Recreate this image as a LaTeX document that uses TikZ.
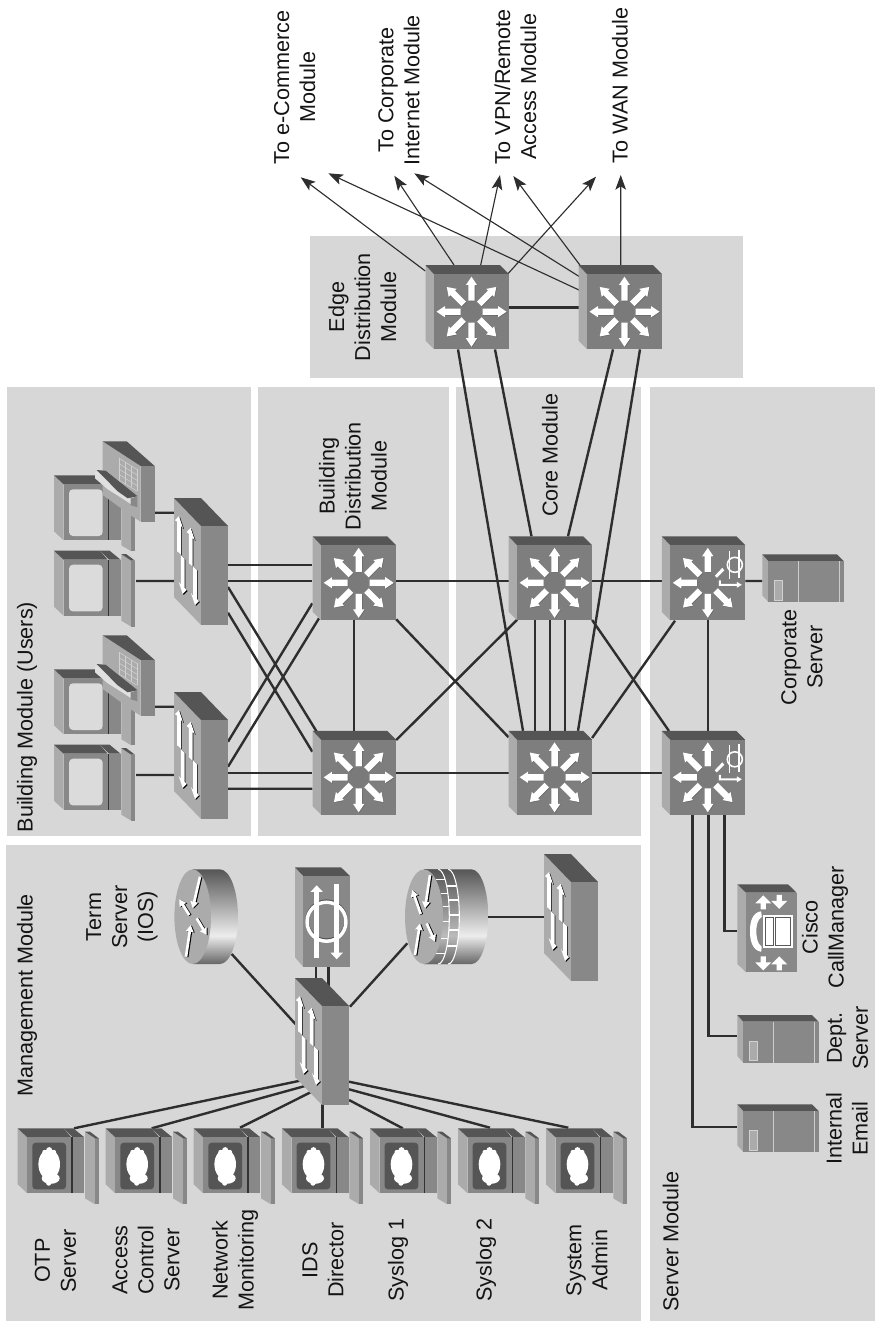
\documentclass[tikz,border=0pt]{standalone}
\usepackage{fontspec}
\setmainfont{Liberation Sans}
\usetikzlibrary{calc,arrows.meta}
\definecolor{modbg}{HTML}{D7D7D7}
\definecolor{ctop}{HTML}{555555}
\definecolor{cside}{HTML}{ABABAB}
\definecolor{cface}{HTML}{7E7E7E}
\definecolor{cfacel}{HTML}{888888}
\definecolor{cline}{HTML}{2E2E2E}
\definecolor{rA}{HTML}{666666}
\definecolor{rB}{HTML}{EDEDED}
\definecolor{rC}{HTML}{565656}
\definecolor{rD}{HTML}{BBBBBB}
\pgfdeclareverticalshading{rbody}{100bp}{color(0bp)=(rA); color(25bp)=(rA); color(40bp)=(rB); color(75bp)=(rC); color(100bp)=(rC)}
\pgfdeclareverticalshading{rfire}{100bp}{color(0bp)=(rA); color(25bp)=(rA); color(40bp)=(rD); color(75bp)=(rC); color(100bp)=(rC)}
% eight-way arrow of a layer-3 switch, pointing at canvas angle #1
\newcommand{\wideArrow}[1]{%
  \fill[black!60,shift={(0.6,0.6)},rotate=#1] (11,-3.2)--(26.5,-3.2)--(26.5,-5.7)--(35,0)--(26.5,5.7)--(26.5,3.2)--(11,3.2)--cycle;
  \fill[white,rotate=#1] (11,-3.2)--(26.5,-3.2)--(26.5,-5.7)--(35,0)--(26.5,5.7)--(26.5,3.2)--(11,3.2)--cycle;}
% skewed arrow on the light face of a layer-2 switch
\newcommand{\skewArrow}[3]{%
  \begin{scope}[shift={(#1,#2)},yslant=-1,yscale=#3]
    \fill[black,shift={(0.9,0)}] (0,0)--(4,8)--(1.8,8)--(1.8,37)--(-1.8,37)--(-1.8,8)--(-4,8)--cycle;
    \fill[white] (0,0)--(4,8)--(1.8,8)--(1.8,37)--(-1.8,37)--(-1.8,8)--(-4,8)--cycle;
  \end{scope}}
% thin arrow on the face of a router
\newcommand{\routerArrow}[4]{%
  \draw[black,line width=2pt,-{Triangle[length=5pt,width=5.5pt]},shift={(1.1,0.4)}] (#1,#2)--(#3,#4);
  \draw[white,line width=2pt,-{Triangle[length=5pt,width=5.5pt]}] (#1,#2)--(#3,#4);}
% block arrow of the CallManager; tip at (#1,#2), tail length #3 (signed)
\newcommand{\blockArrow}[3]{%
  \fill[white,shift={(#1,#2)},yscale=#3] (0,0)--(8,8)--(2.6,8)--(2.6,14)--(-2.6,14)--(-2.6,8)--(-8,8)--cycle;}
\newcommand{\cubeShell}{%
  \fill[cside] (-46,-46.5)--(-37.5,-37.5)--(-37.5,37.5)--(-46,29)--cycle;
  \fill[ctop] (-46,-46.5)--(28.5,-46.5)--(37.5,-37.5)--(-37.5,-37.5)--cycle;
  \fill[cface] (-37.5,-37.5) rectangle (37.5,37.5);}
\newcommand{\pcBody}{%
  \fill[cside] (0,0)--(9.6,9)--(9.6,65)--(0,56)--cycle;
  \fill[ctop] (0,0)--(46,0)--(53.6,9)--(9.6,9)--cycle;
  \fill[cfacel] (9.6,9) rectangle (53.6,65);
  \fill[ctop] (46,0)--(55.6,0)--(66.6,9)--(55,9)--cycle;
  \fill[cfacel] (55,9) rectangle (66.6,65);
  \fill[black!80] (53.6,9) rectangle (55,65);
  \fill[cside] (67.3,3.4)--(77.3,10)--(77.3,76)--(67.3,70)--cycle;
  \fill[cfacel] (77.3,10) rectangle (81,76);
  \fill[ctop] (67.3,3.4)--(72.3,3.4)--(81,10)--(77.3,10)--cycle;}
\tikzset{
  modbox/.style={fill=modbg,draw=none},
  lbl/.style={rotate=90,align=center,inner sep=0pt,font=\fontsize{16.2}{19.5}\selectfont,text=black!92},
  anchorpt/.style={inner sep=0pt,minimum size=0pt},
  link/.style={draw=cline,line width=1.8pt},
  feed/.style={draw=cline,line width=0.85pt,-{Stealth[length=11pt,width=8pt,inset=2.5pt]}},
  l3icon/.pic={\cubeShell
    \fill[black!52] (0,0) circle (10);
    \foreach \a in {0,45,...,315}{\wideArrow{\a}}},
  l3voice/.pic={\cubeShell
    \fill[black!52] (0,0) circle (10);
    \foreach \a in {90,135,180,225,270,315}{\wideArrow{\a}}
    \fill[white] (7,-7)--(14.5,-15)--(16.5,-12.5)--(9,-5)--cycle;
    \fill[white] (11,-2.5)--(13,-2.5)--(13,1)--(29,1)--(29,-1)--(34,2)--(29,5)--(29,3)--(11,3)--cycle;
    \draw[white,line width=1.2pt] (27,-18) circle (7.5);
    \draw[white,line width=1pt] (22,-32)--(22,-4);
    \draw[white,line width=1pt] (31.3,-33)--(31.3,-5);},
  l2icon/.pic={
    \fill[cside] (0,0)--(27,28)--(27,127)--(0,99)--cycle;
    \fill[ctop] (0,0)--(27,0)--(54,28)--(27,28)--cycle;
    \fill[cfacel] (27,28) rectangle (54,127);
    \skewArrow{5}{18}{1}\skewArrow{16.7}{30}{1}
    \skewArrow{8.7}{96}{-1}\skewArrow{21}{107}{-1}},
  mgmtpc/.pic={\pcBody
    \fill[ctop,rounded corners=2.5pt] (14.6,14.4) rectangle (48.3,61);
    \fill[white] (31.5,36) ellipse (10.8 and 15);
    \fill[white] (33,50) ellipse (9 and 5.5);
    \fill[white] (31.5,21.8) circle (3);
    \fill[white] (27,24) circle (2.5);
    \fill[white] (36,24) circle (2.5);
    \fill[white] (31,54.8) circle (2.6);},
  userpc/.pic={\pcBody
    \fill[black!14,rounded corners=3pt] (15,14) rectangle (48.7,60.7);},
  ipphone/.pic={
    \fill[cside] (0,0)--(38,24.7)--(38,80.4)--(29,74.7)--(0,53.7)--cycle;
    \fill[ctop] (0,0)--(24,0)--(52,24.7)--(38,24.7)--cycle;
    \fill[cfacel] (38,24.7) rectangle (52,80.4);
    \foreach \u in {16.3,22.3,28.3,34.3}{\draw[black!18,line width=0.4pt] (\u,{17+(\u-16.3)*0.62})--(\u,{38.7+(\u-16.3)*0.62});}
    \foreach \v in {0,5.4,10.8,16.2,21.7}{\draw[black!18,line width=0.4pt] (16.3,17+\v)--(34.3,28.2+\v);}
    \fill[black!12] (-7.7,30.4)--(-7.7,37)--(5,48)--(21,58)--(28,62.7)--(35,65.7)--(35,55)--(20,47)--(2,32)--cycle;
    \fill[ctop] (-6,28.7)--(3,29.5)--(35,55)--(25,57)--(15,50)--cycle;
    \fill[cfacel] (28,57)--(35,55)--(35,66)--(28,64)--cycle;},
  termrouter/.pic={
    \shade[shading=rbody] (0,-47.3)--(27.3,-47.3) .. controls (37.2,-47.3) and (45.3,-26.1) .. (45.3,0) .. controls (45.3,26.1) and (37.2,47.3) .. (27.3,47.3)--(0,47.3)--cycle;
    \fill[cside] (0,0) ellipse (18.3 and 47.3);
    \routerArrow{7.3}{-40}{0}{-8.4}\routerArrow{-3.4}{-1.7}{-13.4}{-17.4}
    \routerArrow{4}{1.6}{14}{18.3}\routerArrow{-6.7}{40}{-2}{8.3}},
  firerouter/.pic={
    \shade[shading=rbody] (0,-47.3)--(47.7,-47.3) .. controls (56.9,-47.3) and (64.3,-26.1) .. (64.3,0) .. controls (64.3,26.1) and (56.9,47.3) .. (47.7,47.3)--(0,47.3)--cycle;
    \shade[shading=rfire] (0,-47.3)--(24.3,-47.3) .. controls (30.4,-47.3) and (35.3,-26.1) .. (35.3,0) .. controls (35.3,26.1) and (30.4,47.3) .. (24.3,47.3)--(0,47.3)--cycle;
    \draw[white,line width=0.8pt] (14.3,-47.3) .. controls (20.4,-47.3) and (25.3,-26.1) .. (25.3,0) .. controls (25.3,26.1) and (20.4,47.3) .. (14.3,47.3);
    \draw[white,line width=0.8pt] (24.3,-47.3) .. controls (30.4,-47.3) and (35.3,-26.1) .. (35.3,0) .. controls (35.3,26.1) and (30.4,47.3) .. (24.3,47.3);
    \foreach \p/\q/\r in {-37.3/11.7/21.1,-23.3/16.5/23.9,-10/18.6/25,5/18.9/25.2,21.7/16.9/24,36.7/12/21.2,
        -30.7/22.7/32.7,-16.7/24.6/34.6,-1.7/25.3/35.3,13.3/24.9/34.9,29.3/22.9/32.9}
      {\draw[white,line width=0.8pt] (\q,\p)--(\r,\p);}
    \fill[cside] (0,0) ellipse (19 and 47.3);
    \routerArrow{6}{-41.7}{1}{-8.3}\routerArrow{-3.3}{-2.7}{-11.7}{-26.7}
    \routerArrow{2.7}{6.7}{11}{25}\routerArrow{-9}{38.3}{-4}{6.7}},
  idsicon/.pic={
    \fill[cside] (0,0)--(8.3,8.7)--(8.3,99.7)--(0,90)--cycle;
    \fill[ctop] (0,0)--(46,0)--(55,8.7)--(8.3,8.7)--cycle;
    \fill[cfacel] (8.3,8.7) rectangle (55,99.7);
    \draw[black!70,line width=2.6pt] (31.5,53.4) circle (19.5);
    \draw[white,line width=2.6pt] (31.5,54.4) circle (19.5);
    \draw[white,line width=3.5pt,-{Triangle[length=5pt,width=9pt]}] (21.7,91)--(21.7,18);
    \draw[white,line width=3.5pt,-{Triangle[length=5pt,width=9pt]}] (41.7,17)--(41.7,92);},
  srvicon/.pic={
    \fill[cside] (0,0)--(6,6.7)--(6,47.7)--(0,41)--cycle;
    \fill[ctop] (0,0)--(74.7,0)--(81.4,6.7)--(6,6.7)--cycle;
    \fill[cfacel] (6,6.7) rectangle (81.4,47.7);
    \draw[black!20,line width=0.7pt] (35.7,6.7)--(35.7,47.7);
    \draw[black!20,line width=0.7pt] (76.8,6.7)--(76.8,47.7);
    \draw[black!18,fill=cside,line width=0.6pt] (12,26) rectangle (20.4,45.7);},
  ccmicon/.pic={
    \fill[cside] (0,0)--(8.7,8.4)--(8.7,88)--(0,79.6)--cycle;
    \fill[ctop] (0,0)--(50.7,0)--(59.4,8.4)--(8.7,8.4)--cycle;
    \fill[cfacel] (8.7,8.4) rectangle (59.4,88);
    \blockArrow{26}{11}{1}\blockArrow{42}{24.5}{-1}
    \blockArrow{26}{86}{-1}\blockArrow{42}{72}{1}
    \fill[white] (25.4,30.7) rectangle (55.4,64);
    \draw[black!65,line width=0.5pt] (27.7,33.3) rectangle (36.5,61.3);
    \draw[black!65,line width=0.5pt] (38.5,33.3) rectangle (53,61.3);
    \fill[white] (23.8,27) .. controls (15,28) and (12.5,38) .. (12.7,47) .. controls (12.5,56) and (15,66) .. (23.8,67.5)--(24.5,62.5) .. controls (20,60) and (19,52) .. (19,47) .. controls (19,42) and (20,35) .. (24.5,32.5)--cycle;},
}
\begin{document}
\begin{tikzpicture}[x=0.75pt,y=-0.75pt]
\useasboundingbox (0,0) rectangle (875,1321);
% module backgrounds
\fill[modbox] (7,387) rectangle (250.5,836);
\fill[modbox] (258,387) rectangle (449,836);
\fill[modbox] (456,387) rectangle (641,836);
\fill[modbox] (310,236) rectangle (743,378);
\fill[modbox] (6,845) rectangle (641,1321);
\fill[modbox] (650,387) rectangle (875,1321);
% icon positions
\node[anchorpt] (e1) at (471.5,311.7) {};
\node[anchorpt] (e2) at (624.5,311.7) {};
\node[anchorpt] (d1) at (358.7,582.8) {};
\node[anchorpt] (d2) at (358.7,777.3) {};
\node[anchorpt] (c1) at (554.6,582.8) {};
\node[anchorpt] (c2) at (554.6,777.3) {};
\node[anchorpt] (s1) at (707.8,582.8) {};
\node[anchorpt] (s2) at (707.8,777.3) {};
\node[anchorpt] (a1) at (174,498) {};
\node[anchorpt] (a2) at (174,692) {};
\node[anchorpt] (pa1) at (54,475.3) {};
\node[anchorpt] (pa2) at (54,550.7) {};
\node[anchorpt] (ph1) at (102.7,441.3) {};
\node[anchorpt] (pb1) at (54,669.3) {};
\node[anchorpt] (pb2) at (54,744.7) {};
\node[anchorpt] (ph2) at (102.7,635.3) {};
\node[anchorpt] (msw) at (295,978) {};
\node[anchorpt] (fsw) at (544,854) {};
\node[anchorpt] (term) at (192.7,916.7) {};
\node[anchorpt] (fire) at (424,916.7) {};
\node[anchorpt] (ids) at (295,867.3) {};
\node[anchorpt] (w1) at (17.7,1128.3) {};
\node[anchorpt] (w2) at (105.7,1128.3) {};
\node[anchorpt] (w3) at (193.7,1128.3) {};
\node[anchorpt] (w4) at (282,1128.3) {};
\node[anchorpt] (w5) at (370,1128.3) {};
\node[anchorpt] (w6) at (458,1128.3) {};
\node[anchorpt] (w7) at (546,1128.3) {};
\node[anchorpt] (corp) at (762.3,554.3) {};
\node[anchorpt] (ccm) at (737.3,884.3) {};
\node[anchorpt] (dept) at (737.3,1015) {};
\node[anchorpt] (mail) at (737.3,1104.3) {};
\coordinate (t1) at (300.7,177.3);
\coordinate (t2) at (328.3,173.3);
\coordinate (t3) at (394.3,175.7);
\coordinate (t4) at (414.3,173.3);
\coordinate (t5) at (500,175);
\coordinate (t6) at (513.3,176);
\coordinate (t7) at (596,176.7);
\coordinate (t8) at (620.7,175);
% feeds to the other modules
\draw[feed] ($(e1)+(-46.2,-40.7)$)--(t1);
\draw[feed] ($(e1)+(-17.5,-46.7)$)--(t3);
\draw[feed] ($(e1)+(9.2,-46.7)$)--(t5);
\draw[feed] ($(e1)+(36.2,-37.7)$)--(t7);
\draw[feed] ($(e2)+(-45.5,-21.7)$)--(t2);
\draw[feed] ($(e2)+(-44.5,-34.7)$)--(t4);
\draw[feed] ($(e2)+(-44.5,-46.5)$)--(t6);
\draw[feed] ($(e2)+(-3.8,-46.7)$)--(t8);
% links
\draw[link] ($(e1)+(37.5,-4.4)$)--($(e2)+(-46,-4.4)$);
\draw[link] ($(e1)+(-13.5,37.7)$)--($(c2)+(-31.6,-46.5)$);
\draw[link] ($(e1)+(23.5,37.7)$)--($(c1)+(-23.1,-46.5)$);
\draw[link] ($(e2)+(-11.5,37.7)$)--($(c1)+(13.4,-46.5)$);
\draw[link] ($(e2)+(15.5,37.7)$)--($(c2)+(23.4,-46.5)$);
\draw[link] ($(c1)+(-19.6,37.5)$)--($(c2)+(-19.6,-46.5)$);
\draw[link] ($(c1)+(-4.6,37.5)$)--($(c2)+(-4.6,-46.5)$);
\draw[link] ($(c1)+(10.4,37.5)$)--($(c2)+(10.4,-46.5)$);
\draw[link] ($(d1)+(37.5,-1.8)$)--($(c1)+(-46,-1.8)$);
\draw[link] ($(d2)+(37.5,-4.6)$)--($(c2)+(-46,-4.6)$);
\draw[link] ($(c1)+(37.5,-1.8)$)--($(s1)+(-46,-1.8)$);
\draw[link] ($(c2)+(37.5,-4.6)$)--($(s2)+(-46,-4.6)$);
\draw[link] ($(d1)+(37.5,36.5)$)--($(c2)+(-46,-40)$);
\draw[link] ($(d2)+(37.5,-37.3)$)--($(c1)+(-37.5,37)$);
\draw[link] ($(c1)+(37.5,37.2)$)--($(s2)+(-38.8,-46.3)$);
\draw[link] ($(c2)+(37.5,-39.3)$)--($(s1)+(-32.8,37.9)$);
\draw[link] ($(d1)+(-5,37.5)$)--($(d2)+(-5,-46.5)$);
\draw[link] ($(s1)+(0.2,37.5)$)--($(s2)+(0.2,-46.5)$);
\draw[link] ($(a1)+(54,67)$)--($(d1)+(-46.4,-17.8)$);
\draw[link] ($(a1)+(54,83)$)--($(d1)+(-46.4,-1.8)$);
\draw[link] ($(a1)+(54,89)$)--($(d2)+(-42,-45.6)$);
\draw[link] ($(a1)+(54,114.7)$)--($(d2)+(-46.4,-25.6)$);
\draw[link] ($(a2)+(54,49.7)$)--($(d1)+(-46.4,20.5)$);
\draw[link] ($(a2)+(54,74.7)$)--($(d1)+(-39.7,35.5)$);
\draw[link] ($(a2)+(54,80.7)$)--($(d2)+(-46.4,-4.6)$);
\draw[link] ($(a2)+(54,96.7)$)--($(d2)+(-46.4,11.4)$);
\draw[link] ($(ph1)+(52,71.4)$)--($(a1)+(0,14.7)$);
\draw[link] ($(pa2)+(82,30.3)$)--($(a1)+(0,83)$);
\draw[link] ($(ph2)+(52,71.4)$)--($(a2)+(0,14.7)$);
\draw[link] ($(pb2)+(82,30.3)$)--($(a2)+(0,83)$);
\draw[link] ($(s1)+(37.5,-1.8)$)--($(corp)+(0,26.7)$);
\draw[link] ($(s2)+(-15.5,37.4)$) |- ($(mail)+(0,22.4)$);
\draw[link] ($(s2)+(0.5,37.4)$) |- ($(dept)+(0,21)$);
\draw[link] ($(s2)+(16.5,37.4)$) |- ($(ccm)+(0,46.4)$);
\draw[link] ($(term)+(39,37.3)$)--($(msw)+(0.7,46.3)$);
\draw[link] ($(fire)+(-16.7,26.6)$)--($(msw)+(55,28.7)$);
\draw[link] ($(ids)+(21,99.7)$)--($(msw)+(21,7)$);
\draw[link] ($(ids)+(33.3,99.7)$)--($(msw)+(33.3,12)$);
\draw[link] ($(fire)+(64.3,0)$)--($(fsw)+(0,62.7)$);
\draw[link] ($(msw)+(5,102.7)$)--($(w1)+(56.3,0)$);
\draw[link] ($(msw)+(10,108)$)--($(w2)+(46,0)$);
\draw[link] ($(msw)+(16.7,113.7)$)--($(w3)+(46.3,-0.6)$);
\draw[link] ($(msw)+(27.3,125)$)--($(w4)+(40.3,0)$);
\draw[link] ($(msw)+(54,122)$)--($(w5)+(32.7,0)$);
\draw[link] ($(msw)+(54,111.3)$)--($(w6)+(32,-0.6)$);
\draw[link] ($(msw)+(54,103.7)$)--($(w7)+(22.3,-0.6)$);
% icons
\pic at (e1) {l3icon}; \pic at (e2) {l3icon};
\pic at (d1) {l3icon}; \pic at (d2) {l3icon};
\pic at (c1) {l3icon}; \pic at (c2) {l3icon};
\pic at (s1) {l3voice}; \pic at (s2) {l3voice};
\pic at (a1) {l2icon}; \pic at (a2) {l2icon};
\pic at (msw) {l2icon}; \pic at (fsw) {l2icon};
\pic at (pa1) {userpc}; \pic at (ph1) {ipphone}; \pic at (pa2) {userpc};
\pic at (pb1) {userpc}; \pic at (ph2) {ipphone}; \pic at (pb2) {userpc};
\pic at (term) {termrouter};
\pic at (fire) {firerouter};
\pic at (ids) {idsicon};
\pic at (w1) {mgmtpc}; \pic at (w2) {mgmtpc}; \pic at (w3) {mgmtpc}; \pic at (w4) {mgmtpc};
\pic at (w5) {mgmtpc}; \pic at (w6) {mgmtpc}; \pic at (w7) {mgmtpc};
\pic at (corp) {srvicon}; \pic at (dept) {srvicon}; \pic at (mail) {srvicon};
\pic at (ccm) {ccmicon};
% labels
\node[lbl] (lEcom) at (294.7,87.3) {To e-Commerce\\Module};
\node[lbl] (lCorp) at (399,90) {To Corporate\\Internet Module};
\node[lbl] (lVpn) at (515.5,86.7) {To VPN/Remote\\Access Module};
\node[lbl] (lWan) at (620,85.5) {To WAN Module};
\node[lbl] (lEdge) at (362.5,307) {Edge\\Distribution\\Module};
\node[lbl] (lBuild) at (27,717) {Building Module (Users)};
\node[lbl] (lBdist) at (353,476) {Building\\Distribution\\Module};
\node[lbl] (lCore) at (550,455) {Core Module};
\node[lbl] (lMgmt) at (27,995.5) {Management Module};
\node[lbl] (lTerm) at (122,917) {Term\\Server\\(IOS)};
\node[lbl] (lOtp) at (55.5,1260.7) {OTP\\Server};
\node[lbl] (lAcs) at (146,1260) {Access\\Control\\Server};
\node[lbl] (lNet) at (235,1260) {Network\\Monitoring};
\node[lbl] (lIds) at (323,1260) {IDS\\Director};
\node[lbl] (lSys1) at (398,1260) {Syslog 1};
\node[lbl] (lSys2) at (486,1260) {Syslog 2};
\node[lbl] (lAdm) at (587,1260) {System\\Admin};
\node[lbl] (lSrv) at (670.7,1241.7) {Server Module};
\node[lbl] (lMail) at (847,1128.7) {Internal\\Email};
\node[lbl] (lDept) at (847.5,1038) {Dept.\\Server};
\node[lbl] (lCcm) at (825,927.3) {Cisco\\CallManager};
\node[lbl] (lCs) at (802,657) {Corporate\\Server};
\end{tikzpicture}
\end{document}
